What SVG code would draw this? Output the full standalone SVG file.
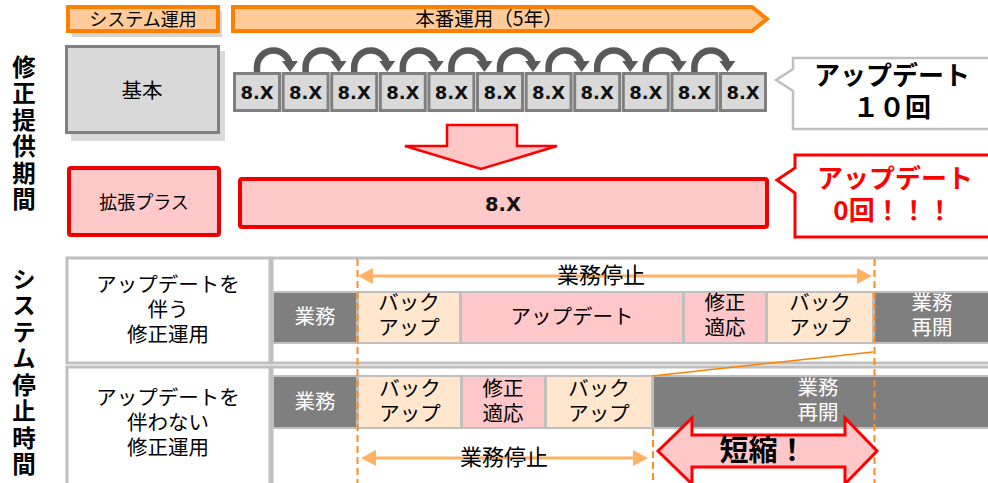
<svg xmlns="http://www.w3.org/2000/svg" width="988" height="483" viewBox="0 0 988 483">
<defs>
<style>
text{font-family:"Noto Sans CJK JP","Liberation Sans",sans-serif;text-anchor:middle;fill:#000}
.t18{font-size:18px}
.t21{font-size:20.5px}
.w{fill:#fff}
.vb{font-size:23.5px;font-weight:bold;writing-mode:vertical-rl;text-orientation:upright;letter-spacing:3px;text-anchor:start}
.cb{font-size:26px;font-weight:bold}
.x{font-family:"DejaVu Sans","Liberation Sans",sans-serif;font-size:18px;font-weight:bold;fill:#111}
.vbox{fill:#D9D9D9;stroke:#7F7F7F;stroke-width:3}
.dk{fill:#7F7F7F;stroke:#BFBFBF;stroke-width:2}
.pc{fill:#FFE6CC;stroke:#BFBFBF;stroke-width:2}
.pk{fill:#FFC7C7;stroke:#BFBFBF;stroke-width:2}
.cell{fill:#fff;stroke:#BFBFBF;stroke-width:3}
.dash{stroke:#FF8C1A;stroke-width:2;stroke-dasharray:7 4;fill:none}
.oa{stroke:#FFB266;stroke-width:3;fill:none}
.oh{fill:#FFB266}
.ca{stroke:#595959;stroke-width:6.5;fill:none}
.ch{fill:#595959}
</style>
</defs>

<g id="label-shusei">
<text class="vb" x="24" y="55">修正提供期間</text>
</g>
<g id="label-system">
<text class="vb" x="24" y="267">システム停止時間</text>
</g>

<g id="system-unyou">
<rect x="72" y="11" width="150" height="26" fill="#D6D6D6"/>
<rect x="68" y="7" width="150" height="24" fill="#FFCC99" stroke="#FF8000" stroke-width="4"/>
<text class="t18" x="143" y="25.5">システム運用</text>
</g>

<g id="honban-unyou">
<polygon points="233,7 752,7 767,19 752,31 233,31" fill="#FFCC99" stroke="#FF8000" stroke-width="4"/>
<text x="489" y="26" style="font-size:19.5px">本番運用（5年）</text>
</g>

<g id="kihon">
<rect x="71" y="51" width="154" height="90" fill="#D9D9D9"/>
<rect x="66.5" y="46.5" width="152" height="86" fill="#D9D9D9" stroke="#808080" stroke-width="3"/>
<text class="t21" x="142" y="98">基本</text>
</g>

<g id="versions">
<rect class="vbox" x="234.5" y="73.5" width="45" height="37"/><text class="x" x="257" y="98.5">8.X</text>
<rect class="vbox" x="283.1" y="73.5" width="45" height="37"/><text class="x" x="305.6" y="98.5">8.X</text>
<rect class="vbox" x="331.7" y="73.5" width="45" height="37"/><text class="x" x="354.2" y="98.5">8.X</text>
<rect class="vbox" x="380.3" y="73.5" width="45" height="37"/><text class="x" x="402.8" y="98.5">8.X</text>
<rect class="vbox" x="428.9" y="73.5" width="45" height="37"/><text class="x" x="451.4" y="98.5">8.X</text>
<rect class="vbox" x="477.5" y="73.5" width="45" height="37"/><text class="x" x="500" y="98.5">8.X</text>
<rect class="vbox" x="526.1" y="73.5" width="45" height="37"/><text class="x" x="548.6" y="98.5">8.X</text>
<rect class="vbox" x="574.7" y="73.5" width="45" height="37"/><text class="x" x="597.2" y="98.5">8.X</text>
<rect class="vbox" x="623.3" y="73.5" width="45" height="37"/><text class="x" x="645.8" y="98.5">8.X</text>
<rect class="vbox" x="671.9" y="73.5" width="45" height="37"/><text class="x" x="694.4" y="98.5">8.X</text>
<rect class="vbox" x="720.5" y="73.5" width="45" height="37"/><text class="x" x="743" y="98.5">8.X</text>
</g>

<g id="callout-10">
<path d="M793,58 L992,58 L992,129 L793,129 L793,91 L776,80 L793,69 Z" fill="#fff" stroke="#BFBFBF" stroke-width="2.5"/>
<text class="cb" x="892" y="85">アップデート<tspan x="892" dy="32">１０回</tspan></text>
</g>

<g id="kakucho">
<rect x="69" y="168" width="150" height="67" rx="2" fill="#FFC9C9" stroke="#EE0000" stroke-width="4"/>
<text class="t18" x="144" y="208.5">拡張プラス</text>
</g>

<g id="kakucho-bar">
<rect x="240" y="179" width="527" height="48" rx="2" fill="#FFC9C9" stroke="#EE0000" stroke-width="4"/>
<text class="x" x="503" y="211" style="font-size:19.5px">8.X</text>
</g>

<g id="callout-0">
<path d="M795,155 L992,155 L992,237 L795,237 L795,193 L777,180 L795,168 Z" fill="#fff" stroke="#FF0000" stroke-width="3"/>
<text class="cb" x="895" y="188" style="fill:#FF0000">アップデート<tspan x="893" dy="32">0回！！！</tspan></text>
</g>

<g id="row1-label">
<rect class="cell" x="67" y="258" width="203" height="105"/>
<text class="t21" x="168" y="292">アップデートを<tspan x="168" dy="25">伴う</tspan><tspan x="168" dy="25">修正運用</tspan></text>
</g>
<g id="row1-area">
<rect class="cell" x="272" y="258" width="720" height="105"/>
</g>
<g id="row2-label">
<rect class="cell" x="67" y="367" width="203" height="120"/>
<text class="t21" x="168" y="405">アップデートを<tspan x="168" dy="25">伴わない</tspan><tspan x="168" dy="25">修正運用</tspan></text>
</g>
<g id="row2-area">
<rect class="cell" x="272" y="367" width="720" height="120"/>
</g>

<g id="row1-bars">
<rect class="dk" x="273" y="292" width="84" height="51"/><text class="t21 w" x="315" y="324">業務</text>
<rect class="pc" x="358" y="292" width="102" height="51"/><text class="t21" x="409" y="310">バック<tspan x="409" dy="25">アップ</tspan></text>
<rect class="pk" x="461" y="292" width="222" height="51"/><text class="t21" x="572" y="324">アップデート</text>
<rect class="pk" x="684" y="292" width="82" height="51"/><text class="t21" x="725" y="310">修正<tspan x="725" dy="25">適応</tspan></text>
<rect class="pc" x="767" y="292" width="106" height="51"/><text class="t21" x="820" y="310">バック<tspan x="820" dy="25">アップ</tspan></text>
<rect class="dk" x="874" y="292" width="118" height="51"/><text class="t21 w" x="932" y="310">業務<tspan x="932" dy="25">再開</tspan></text>
</g>

<g id="row2-bars">
<rect class="dk" x="273" y="376" width="84" height="52"/><text class="t21 w" x="315" y="409">業務</text>
<rect class="pc" x="358" y="376" width="103" height="52"/><text class="t21" x="410" y="396">バック<tspan x="410" dy="25">アップ</tspan></text>
<rect class="pk" x="462" y="376" width="83" height="52"/><text class="t21" x="503" y="396">修正<tspan x="503" dy="25">適応</tspan></text>
<rect class="pc" x="546" y="376" width="106" height="52"/><text class="t21" x="599" y="396">バック<tspan x="599" dy="25">アップ</tspan></text>
<rect class="dk" x="653" y="376" width="339" height="52"/><text class="t21 w" x="818" y="395">業務<tspan x="818" dy="25">再開</tspan></text>
</g>

<g id="connectors">
<g id="update-arrows">
<path class="ca" d="M257,72 L257,67 A16.5,16.5 0 0 1 290,67 L290,64"/><polygon class="ch" points="282,61 298,61 290,72"/>
<path class="ca" d="M305.6,72 L305.6,67 A16.5,16.5 0 0 1 338.6,67 L338.6,64"/><polygon class="ch" points="330.6,61 346.6,61 338.6,72"/>
<path class="ca" d="M354.2,72 L354.2,67 A16.5,16.5 0 0 1 387.2,67 L387.2,64"/><polygon class="ch" points="379.2,61 395.2,61 387.2,72"/>
<path class="ca" d="M402.8,72 L402.8,67 A16.5,16.5 0 0 1 435.8,67 L435.8,64"/><polygon class="ch" points="427.8,61 443.8,61 435.8,72"/>
<path class="ca" d="M451.4,72 L451.4,67 A16.5,16.5 0 0 1 484.4,67 L484.4,64"/><polygon class="ch" points="476.4,61 492.4,61 484.4,72"/>
<path class="ca" d="M500,72 L500,67 A16.5,16.5 0 0 1 533,67 L533,64"/><polygon class="ch" points="525,61 541,61 533,72"/>
<path class="ca" d="M548.6,72 L548.6,67 A16.5,16.5 0 0 1 581.6,67 L581.6,64"/><polygon class="ch" points="573.6,61 589.6,61 581.6,72"/>
<path class="ca" d="M597.2,72 L597.2,67 A16.5,16.5 0 0 1 630.2,67 L630.2,64"/><polygon class="ch" points="622.2,61 638.2,61 630.2,72"/>
<path class="ca" d="M645.8,72 L645.8,67 A16.5,16.5 0 0 1 678.8,67 L678.8,64"/><polygon class="ch" points="670.8,61 686.8,61 678.8,72"/>
<path class="ca" d="M694.4,72 L694.4,67 A16.5,16.5 0 0 1 727.4,67 L727.4,64"/><polygon class="ch" points="719.4,61 735.4,61 727.4,72"/>
</g>
<polygon id="down-arrow" points="447,125 517,125 517,146 557,146 481,169 405,146 447,146" fill="#FFC7C7" stroke="#FF0000" stroke-width="2.5" stroke-linejoin="miter"/>

<line class="dash" x1="357.5" y1="259" x2="357.5" y2="483"/>
<line class="dash" x1="874.5" y1="259" x2="874.5" y2="483"/>
<line class="dash" x1="653" y1="429" x2="653" y2="483"/>
<line x1="873" y1="352" x2="652" y2="376" stroke="#FF8000" stroke-width="1.5"/>

<line class="oa" x1="370" y1="276" x2="860" y2="276"/>
<polygon class="oh" points="358,276 373,268 373,284"/>
<polygon class="oh" points="872,276 857,268 857,284"/>
<line class="oa" x1="373" y1="458" x2="636" y2="458"/>
<polygon class="oh" points="361,458 376,450 376,466"/>
<polygon class="oh" points="648,458 633,450 633,466"/>
</g>

<text class="t21" x="601" y="283" style="font-size:22px">業務停止</text>
<text class="t21" x="504" y="465" style="font-size:22px">業務停止</text>

<g id="tanshuku">
<polygon points="658,451 692,418 692,435 845,435 845,418 877,451 845,484 845,467 692,467 692,484" fill="#FFC7C7" stroke="#FF0000" stroke-width="3"/>
<text x="763" y="461" style="font-size:29px;font-weight:bold">短縮！</text>
</g>
</svg>
